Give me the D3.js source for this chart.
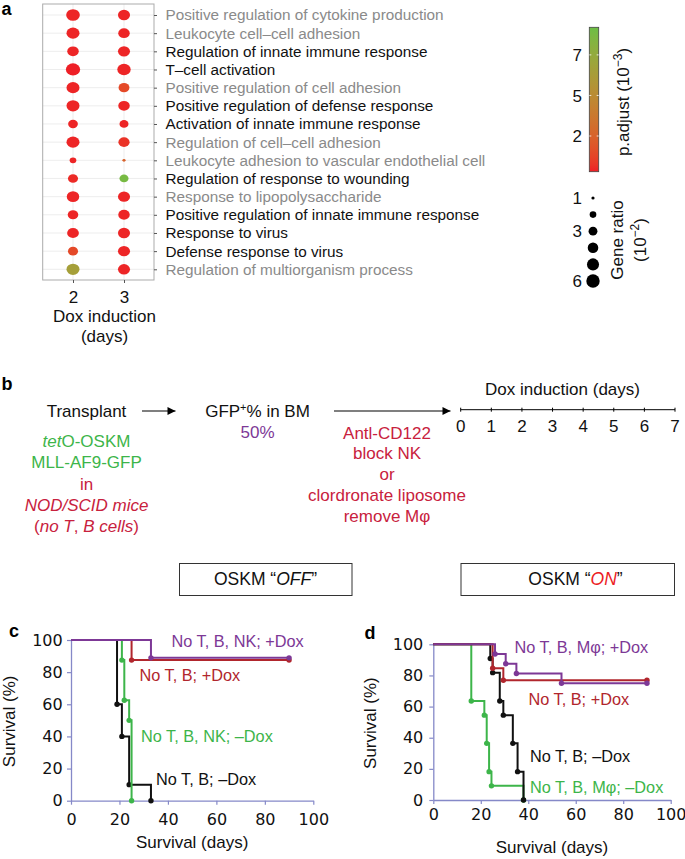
<!DOCTYPE html>
<html>
<head>
<meta charset="utf-8">
<script src="https://cdn.jsdelivr.net/npm/d3@7"></script>
<style>
html,body{margin:0;padding:0;background:#fff;}
svg{display:block;}
</style>
</head>
<body>
<svg id="fig" width="685" height="859" xmlns="http://www.w3.org/2000/svg"></svg>
<script>
// ================= DATA =================
// Panel a : GO enrichment dot plot
const goTerms = [
  "Positive regulation of cytokine production",
  "Leukocyte cell\u2013cell adhesion",
  "Regulation of innate immune response",
  "T\u2013cell activation",
  "Positive regulation of cell adhesion",
  "Positive regulation of defense response",
  "Activation of innate immune response",
  "Regulation of cell\u2013cell adhesion",
  "Leukocyte adhesion to vascular endothelial cell",
  "Regulation of response to wounding",
  "Response to lipopolysaccharide",
  "Positive regulation of innate immune response",
  "Response to virus",
  "Defense response to virus",
  "Regulation of multiorganism process"
];
const doxDays = ["2", "3"];
// gene ratio (x 10^-2)
const geneRatioDay2 = [6.2, 5.7, 4.6, 6.7, 5.7, 5.7, 3.5, 5.7, 2.0, 3.7, 5.3, 4.0, 4.8, 3.7, 5.7];
const geneRatioDay3 = [5.0, 4.6, 5.0, 6.0, 4.2, 4.6, 3.1, 4.4, 1.0, 3.1, 5.0, 4.6, 5.0, 5.0, 5.0];
// p.adjust (x 10^-3)
const pAdjDay2 = [0.4, 0.4, 0.4, 0.3, 0.4, 0.4, 0.4, 0.4, 0.4, 0.5, 0.4, 0.4, 0.4, 1.4, 6.5];
const pAdjDay3 = [0.4, 0.4, 0.4, 0.4, 1.4, 0.4, 0.4, 0.7, 2.5, 8.8, 0.4, 0.4, 0.4, 0.4, 0.4];
const pAdjTickValues = [7.5, 5, 2.5];
const pAdjTickLabels = ["7", "5", "2"];
const geneRatioLegendValues = [1, 2, 3, 4, 5, 6];
const geneRatioLegendLabels = ["1", "", "3", "", "", "6"];

// Panel b : timeline
const timelineDays = [0, 1, 2, 3, 4, 5, 6, 7];

// Panel c : OSKM "OFF" survival (days, % survival)
const offTBMinusDays = [0, 19, 21, 24, 33];
const offTBMinusSurv = [100, 60, 40, 10, 0];
const offTBNKMinusDays = [0, 21, 22, 24, 25];
const offTBNKMinusSurv = [100, 87.5, 62.5, 50, 0];
const offTBPlusDays = [0, 25, 90];
const offTBPlusSurv = [100, 87.5, 87.5];
const offTBNKPlusDays = [0, 33, 90];
const offTBNKPlusSurv = [100, 88.9, 88.9];

// Panel d : OSKM "ON" survival
const onTBMphiMinusDays = [0, 16, 21.5, 22.5, 23.5, 24.5, 38];
const onTBMphiMinusSurv = [100, 63.6, 54.5, 36.4, 18.2, 9.1, 0];
const onTBMinusDays = [0, 24, 25, 28, 29.5, 33.5, 35.5, 38];
const onTBMinusSurv = [100, 90.9, 81.8, 63.6, 54.5, 36.4, 18.2, 0];
const onTBPlusDays = [0, 25, 29.5, 90];
const onTBPlusSurv = [100, 84.6, 76.9, 76.9];
const onTBMphiPlusDays = [0, 26, 30.5, 35, 54, 90];
const onTBMphiPlusSurv = [100, 93.75, 87.5, 81.25, 75, 75];

const survTicks = [0, 20, 40, 60, 80, 100];

// ================= STYLE =================
const SANS = '"Liberation Sans", Arial, Helvetica, sans-serif';
const NUM = '"DejaVu Sans", Verdana, sans-serif';
const greyTermIdx = new Set([0, 1, 4, 7, 8, 10, 14]);
const C_PURPLE = "#7D3896", C_RED = "#B1262D", C_GREEN = "#3DB54A", C_BLACK = "#111111";
const C_TXT_GREEN = "#3DB54A", C_TXT_RED = "#C8213D";
const AXIS = "#8589C8";

const svg = d3.select("#fig").attr("font-family", SANS);

function richText(g, x, y, parts, opts = {}) {
  const t = g.append("text").attr("x", x).attr("y", y)
    .attr("font-size", opts.size || 17)
    .attr("text-anchor", opts.anchor || "middle")
    .attr("fill", opts.fill || "#111");
  if (opts.transform) t.attr("transform", opts.transform);
  parts.forEach(p => {
    if (typeof p === "string") p = { t: p };
    const s = t.append("tspan").text(p.t);
    if (p.it) s.attr("font-style", "italic");
    if (p.fill) s.attr("fill", p.fill);
    if (p.dy) s.attr("dy", p.dy);
    if (p.size) s.attr("font-size", p.size);
  });
  return t;
}

// panel letters
[["a", 1.5, 15], ["b", 1.5, 390], ["c", 9, 637], ["d", 364.5, 638.5]].forEach(([l, x, y]) => {
  svg.append("text").attr("x", x).attr("y", y).attr("font-size", 18)
    .attr("font-weight", "bold").attr("fill", "#000").text(l);
});

// ================= PANEL A =================
const gA = svg.append("g");
const pL = 42.7, pR = 154, pT = 4, pB = 280;
const termY = d3.scalePoint().domain(goTerms).range([15, 269.3]);
const dayX = d3.scalePoint().domain(doxDays).range([73, 124]);
const pAdjColor = d3.scaleLinear().domain([0.3, 9.2]).range(["#EE1F26", "#6CBE45"])
  .interpolate(d3.interpolateLab).clamp(true);
const ratioArea = d3.scaleLinear().domain([1, 6]).range([2.56, 44.9]);
const ratioR = v => Math.sqrt(Math.max(0.5, ratioArea(v)));

gA.selectAll("line.hgrid").data(goTerms).join("line").attr("class", "hgrid")
  .attr("x1", pL).attr("x2", pR).attr("y1", d => termY(d)).attr("y2", d => termY(d))
  .attr("stroke", "#ebebeb").attr("stroke-width", 0.9);
gA.selectAll("line.vgrid").data(doxDays).join("line").attr("class", "vgrid")
  .attr("x1", d => dayX(d)).attr("x2", d => dayX(d)).attr("y1", pT).attr("y2", pB)
  .attr("stroke", "#ebebeb").attr("stroke-width", 0.9);

const dots = [];
goTerms.forEach((t, i) => {
  dots.push({ term: t, day: "2", ratio: geneRatioDay2[i], p: pAdjDay2[i] });
  dots.push({ term: t, day: "3", ratio: geneRatioDay3[i], p: pAdjDay3[i] });
});
gA.selectAll("ellipse.dot").data(dots).join("ellipse").attr("class", "dot")
  .attr("cx", d => dayX(d.day)).attr("cy", d => termY(d.term))
  .attr("rx", d => ratioR(d.ratio)).attr("ry", d => ratioR(d.ratio) * 0.86)
  .attr("fill", d => pAdjColor(d.p));

gA.append("rect").attr("x", pL).attr("y", pT).attr("width", pR - pL).attr("height", pB - pT)
  .attr("fill", "none").attr("stroke", "#ababab").attr("stroke-width", 1);

const axTerms = gA.append("g").attr("transform", `translate(${pR},0)`)
  .call(d3.axisRight(termY).tickSize(3).tickPadding(8.5));
axTerms.select(".domain").remove();
axTerms.selectAll(".tick line").attr("stroke", "#555");
axTerms.selectAll(".tick text").attr("font-family", SANS).attr("font-size", 15.3)
  .attr("fill", (d, i) => greyTermIdx.has(i) ? "#8a8a8a" : "#111");

const axDays = gA.append("g").attr("transform", `translate(0,${pB})`)
  .call(d3.axisBottom(dayX).tickSize(3).tickPadding(7.5));
axDays.select(".domain").remove();
axDays.selectAll(".tick line").attr("stroke", "#555");
axDays.selectAll(".tick text").attr("font-family", SANS).attr("font-size", 17).attr("fill", "#111");

gA.append("text").attr("x", 104.5).attr("y", 321.7).attr("text-anchor", "middle")
  .attr("font-size", 17).attr("fill", "#111").text("Dox induction");
gA.append("text").attr("x", 104.5).attr("y", 341.7).attr("text-anchor", "middle")
  .attr("font-size", 17).attr("fill", "#111").text("(days)");

// colour bar
const cbX = 589.3, cbW = 9.4;
const cbY = d3.scaleLinear().domain(pAdjColor.domain()).range([171.7, 27.3]);
const defs = svg.append("defs");
const grad = defs.append("linearGradient").attr("id", "pgrad")
  .attr("x1", 0).attr("y1", 1).attr("x2", 0).attr("y2", 0);
const [d0, d1] = pAdjColor.domain();
d3.range(0, 21).forEach(i => {
  const f = i / 20;
  grad.append("stop").attr("offset", f).attr("stop-color", pAdjColor(d0 + f * (d1 - d0)));
});
gA.append("rect").attr("x", cbX).attr("y", cbY(d1)).attr("width", cbW).attr("height", cbY(d0) - cbY(d1))
  .attr("fill", "url(#pgrad)").attr("stroke", "#444").attr("stroke-width", 0.8);
pAdjTickValues.forEach((v, i) => {
  gA.append("line").attr("x1", cbX).attr("x2", cbX + 2).attr("y1", cbY(v)).attr("y2", cbY(v))
    .attr("stroke", "#fff").attr("stroke-width", 0.8);
  gA.append("line").attr("x1", cbX + cbW - 2).attr("x2", cbX + cbW).attr("y1", cbY(v)).attr("y2", cbY(v))
    .attr("stroke", "#fff").attr("stroke-width", 0.8);
  gA.append("text").attr("x", 582).attr("y", cbY(v)).attr("dy", "0.36em").attr("text-anchor", "end")
    .attr("font-size", 17).attr("fill", "#111").text(pAdjTickLabels[i]);
});
richText(gA, 0, 0, ["p.adjust (10", { t: "\u22123", dy: -7, size: 12 }, { t: ")", dy: 7 }],
  { transform: "translate(629,102) rotate(-90)", size: 17 });

// size legend
const legY = d3.scalePoint().domain(geneRatioLegendValues).range([198, 281]);
gA.selectAll("circle.leg").data(geneRatioLegendValues).join("circle").attr("class", "leg")
  .attr("cx", 593).attr("cy", d => legY(d)).attr("r", d => ratioR(d)).attr("fill", "#000");
gA.selectAll("text.leg").data(geneRatioLegendValues).join("text").attr("class", "leg")
  .attr("x", 582).attr("y", d => legY(d)).attr("dy", "0.36em").attr("text-anchor", "end")
  .attr("font-size", 17).attr("fill", "#111").text((d, i) => geneRatioLegendLabels[i]);
richText(gA, 0, 0, ["Gene ratio"], { transform: "translate(623,240) rotate(-90)", size: 17 });
richText(gA, 0, 0, ["(10", { t: "\u22122", dy: -7, size: 12 }, { t: ")", dy: 7 }],
  { transform: "translate(646,240) rotate(-90)", size: 17 });

// ================= PANEL B =================
const gB = svg.append("g");
defs.append("marker").attr("id", "arrow").attr("viewBox", "0 0 10 10").attr("refX", 10).attr("refY", 5)
  .attr("markerWidth", 9).attr("markerHeight", 8).attr("markerUnits", "userSpaceOnUse").attr("orient", "auto")
  .append("path").attr("d", "M0,0 L10,5 L0,10 z").attr("fill", "#000");

richText(gB, 86.5, 417, ["Transplant"]);
gB.append("line").attr("x1", 142).attr("x2", 175.5).attr("y1", 411).attr("y2", 411)
  .attr("stroke", "#000").attr("stroke-width", 1.2).attr("marker-end", "url(#arrow)");
richText(gB, 257.5, 417, ["GFP", { t: "+", dy: -6.5, size: 11 }, { t: "% in BM", dy: 6.5 }]);
richText(gB, 257.5, 437.5, ["50%"], { fill: C_PURPLE });
gB.append("line").attr("x1", 334).attr("x2", 450.5).attr("y1", 411).attr("y2", 411)
  .attr("stroke", "#000").attr("stroke-width", 1.2).attr("marker-end", "url(#arrow)");

richText(gB, 86.5, 447, [{ t: "tet", it: true }, "O-OSKM"], { fill: C_TXT_GREEN });
richText(gB, 86.5, 468, ["MLL-AF9-GFP"], { fill: C_TXT_GREEN });
richText(gB, 86.5, 489.5, ["in"], { fill: C_TXT_RED });
richText(gB, 86.5, 510.5, [{ t: "NOD/SCID mice", it: true }], { fill: C_TXT_RED });
richText(gB, 86.5, 531.5, ["(", { t: "no T", it: true }, ", ", { t: "B cells", it: true }, ")"], { fill: C_TXT_RED });

richText(gB, 387, 438.5, ["Antl-CD122"], { fill: C_TXT_RED });
richText(gB, 387, 459, ["block NK"], { fill: C_TXT_RED });
richText(gB, 387, 479.5, ["or"], { fill: C_TXT_RED });
richText(gB, 387, 501, ["clordronate liposome"], { fill: C_TXT_RED });
richText(gB, 387, 522, ["remove M\u03C6"], { fill: C_TXT_RED });

const tlX = d3.scaleLinear().domain([0, 7]).range([460.7, 675]);
const tlY = 409.7;
gB.append("line").attr("x1", tlX(0)).attr("x2", tlX(7)).attr("y1", tlY).attr("y2", tlY)
  .attr("stroke", "#000").attr("stroke-width", 1);
gB.selectAll("line.tl").data(timelineDays).join("line").attr("class", "tl")
  .attr("x1", d => tlX(d)).attr("x2", d => tlX(d)).attr("y1", tlY - 2).attr("y2", tlY + 2)
  .attr("stroke", "#000").attr("stroke-width", 1);
gB.selectAll("text.tl").data(timelineDays).join("text").attr("class", "tl")
  .attr("x", d => tlX(d)).attr("y", 432).attr("text-anchor", "middle")
  .attr("font-size", 17).attr("fill", "#111").text(d => d);
richText(gB, 562.5, 395, ["Dox induction (days)"]);

// ================= BOXES =================
svg.append("rect").attr("x", 179.5).attr("y", 563.5).attr("width", 172.5).attr("height", 32)
  .attr("fill", "none").attr("stroke", "#333").attr("stroke-width", 1);
richText(svg, 265.5, 585, ["OSKM \u201C", { t: "OFF", it: true }, "\u201D"], { size: 17.5 });
svg.append("rect").attr("x", 461).attr("y", 563.5).attr("width", 213.5).attr("height", 32)
  .attr("fill", "none").attr("stroke", "#333").attr("stroke-width", 1);
richText(svg, 575.5, 585, ["OSKM \u201C", { t: "ON", it: true, fill: "#EC1C24" }, "\u201D"], { size: 17.5 });

// ================= PANELS C & D =================
function drawKM(cfg) {
  const g = svg.append("g");
  const x = d3.scaleLinear().domain([0, 100]).range(cfg.xr);
  const y = d3.scaleLinear().domain([0, 100]).range(cfg.yr);
  const ax = g.append("g").attr("transform", `translate(0,${cfg.yr[0]})`)
    .call(d3.axisBottom(x).tickValues(survTicks).tickSize(4).tickSizeOuter(0).tickPadding(cfg.xpad));
  const ay = g.append("g").attr("transform", `translate(${cfg.xr[0]},0)`)
    .call(d3.axisLeft(y).tickValues(survTicks).tickSize(4).tickSizeOuter(0).tickPadding(cfg.ypad));
  [ax, ay].forEach(a => {
    a.select(".domain").attr("stroke", AXIS).attr("stroke-width", 1.3);
    a.selectAll(".tick line").attr("stroke", AXIS).attr("stroke-width", 1.2);
    a.selectAll(".tick text").attr("font-family", NUM).attr("font-size", 16).attr("fill", "#111");
  });
  const line = d3.line().x(d => x(d[0])).y(d => y(d[1])).curve(d3.curveStepAfter);
  cfg.series.forEach(s => {
    const pts = s.days.map((d, i) => [d, s.surv[i]]);
    g.append("path").attr("d", line(pts)).attr("fill", "none").attr("stroke", s.color)
      .attr("stroke-width", 2).attr("stroke-linejoin", "miter");
    g.selectAll(null).data(pts.slice(1)).join("circle")
      .attr("cx", d => x(d[0])).attr("cy", d => y(d[1])).attr("r", 2.7).attr("fill", s.color);
    g.append("text").attr("x", s.lx).attr("y", s.ly).attr("font-size", 16.3)
      .attr("fill", s.color).text(s.name);
  });
  g.append("text").attr("x", (cfg.xr[0] + cfg.xr[1]) / 2).attr("y", cfg.xTitleY)
    .attr("text-anchor", "middle").attr("font-size", 17).attr("fill", "#111").text("Survival (days)");
  g.append("text").attr("transform", `translate(${cfg.yTitleX},${(cfg.yr[0] + cfg.yr[1]) / 2 + 1}) rotate(-90)`)
    .attr("text-anchor", "middle").attr("font-size", 17).attr("fill", "#111").text("Survival (%)");
}

drawKM({
  xr: [71, 313.3], yr: [800.7, 640], xpad: 8.5, ypad: 4.3, xTitleY: 848, yTitleX: 14.5,
  series: [
    { name: "No T, B; \u2013Dox", days: offTBMinusDays, surv: offTBMinusSurv, color: C_BLACK, lx: 156, ly: 785 },
    { name: "No T, B, NK; \u2013Dox", days: offTBNKMinusDays, surv: offTBNKMinusSurv, color: C_GREEN, lx: 141, ly: 741.7 },
    { name: "No T, B; +Dox", days: offTBPlusDays, surv: offTBPlusSurv, color: C_RED, lx: 139.5, ly: 680.7 },
    { name: "No T, B, NK; +Dox", days: offTBNKPlusDays, surv: offTBNKPlusSurv, color: C_PURPLE, lx: 171.5, ly: 646.7 }
  ]
});

drawKM({
  xr: [433.3, 670.7], yr: [800, 644.3], xpad: 4.5, ypad: 6, xTitleY: 852.7, yTitleX: 375.5,
  series: [
    { name: "No T, B, M\u03C6; \u2013Dox", days: onTBMphiMinusDays, surv: onTBMphiMinusSurv, color: C_GREEN, lx: 530, ly: 793.3 },
    { name: "No T, B; \u2013Dox", days: onTBMinusDays, surv: onTBMinusSurv, color: C_BLACK, lx: 530, ly: 761.7 },
    { name: "No T, B; +Dox", days: onTBPlusDays, surv: onTBPlusSurv, color: C_RED, lx: 528.5, ly: 705 },
    { name: "No T, B, M\u03C6; +Dox", days: onTBMphiPlusDays, surv: onTBMphiPlusSurv, color: C_PURPLE, lx: 514.5, ly: 653.3 }
  ]
});
</script>
</body>
</html>
